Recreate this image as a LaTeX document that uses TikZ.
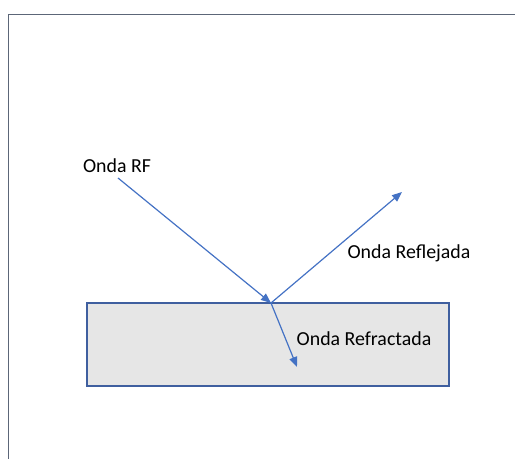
\documentclass[tikz,border=0pt]{standalone}
\usepackage{fontspec}
\setmainfont{Carlito}
\usetikzlibrary{arrows.meta}
\definecolor{rayblue}{HTML}{4472C4}
\definecolor{edgeblue}{HTML}{3F5F9F}
\definecolor{slabgray}{HTML}{E6E6E6}
\definecolor{framegray}{HTML}{5C6678}

\begin{document}
\begin{tikzpicture}[x=0.75pt,y=-0.75pt]
\tikzset{ray/.style={-{Triangle[length=7.5pt,width=6pt]},rayblue,line width=0.9pt},
         lbl/.style={font=\fontsize{14.9}{18}\selectfont,inner sep=0pt}}
\useasboundingbox (0,0) rectangle (515,459);
% outer frame, cut off on the right and at the bottom
\draw[framegray,line width=1.4pt] (8.5,459) -- (8.5,14.5) -- (515,14.5);
% the medium
\draw[edgeblue,fill=slabgray,line width=0.8pt] (87,303) rectangle (449,386);
% incident, reflected and refracted waves
\coordinate (src) at (118,178);
\coordinate (hit) at (271,303);
\coordinate (refl) at (402,192);
\coordinate (refr) at (297,367);
\draw[ray] (src) -- (hit);
\draw[ray] (hit) -- (refl);
\draw[ray] (hit) -- (refr);
\node[lbl] (inc) at (117,166) {Onda RF};
\node[lbl] (rfl) at (409,253) {Onda Reflejada};
\node[lbl] (rfr) at (364,339) {Onda Refractada};
\end{tikzpicture}
\end{document}
